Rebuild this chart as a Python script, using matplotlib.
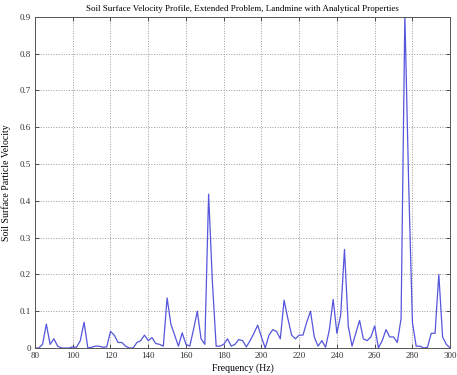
import matplotlib
matplotlib.use("Agg")
import matplotlib.pyplot as plt

freq = list(range(80, 302, 2))
velocity = [
    0.0, 0.0, 0.01, 0.065, 0.01, 0.025, 0.005, 0.0, 0.0, 0.0,          # 80-98
    0.003, 0.002, 0.02, 0.07, 0.0, 0.002, 0.005, 0.005, 0.002, 0.003,  # 100-118
    0.045, 0.035, 0.015, 0.015, 0.005, 0.0, 0.0, 0.015, 0.02, 0.035,   # 120-138
    0.02, 0.028, 0.012, 0.01, 0.005, 0.136, 0.065, 0.035, 0.005, 0.041, # 140-158
    0.01, 0.005, 0.05, 0.1, 0.025, 0.01, 0.418, 0.18, 0.005, 0.005,    # 160-178
    0.01, 0.025, 0.005, 0.01, 0.023, 0.02, 0.003, 0.02, 0.04, 0.062,   # 180-198
    0.03, 0.0, 0.035, 0.05, 0.045, 0.025, 0.13, 0.08, 0.035, 0.025,    # 200-218
    0.035, 0.035, 0.07, 0.1, 0.03, 0.005, 0.02, 0.002, 0.05, 0.132,    # 220-238
    0.04, 0.09, 0.268, 0.06, 0.005, 0.04, 0.075, 0.025, 0.02, 0.03,    # 240-258
    0.06, 0.0, 0.02, 0.05, 0.03, 0.03, 0.015, 0.08, 0.905, 0.45,       # 260-278
    0.07, 0.005, 0.005, 0.0, 0.002, 0.04, 0.04, 0.2, 0.03, 0.01, 0.0,  # 280-300
]

xticks = list(range(80, 320, 20))
yticks = [0, 0.1, 0.2, 0.3, 0.4, 0.5, 0.6, 0.7, 0.8, 0.9]
ytick_labels = ['0', '0.1', '0.2', '0.3', '0.4', '0.5', '0.6', '0.7', '0.8', '0.9']

plt.rcParams['font.family'] = ['Liberation Serif', 'DejaVu Serif']

fig = plt.figure(figsize=(4.57, 3.75), dpi=100)
ax = fig.add_axes([0.0766, 0.072, 0.9084, 0.883])
ax.plot(freq, velocity, color='#5555dd', linewidth=0.9)
ax.set_xlim(80, 300)
ax.set_ylim(0, 0.9)
ax.set_xticks(xticks)
ax.set_yticks(yticks)
ax.set_yticklabels(ytick_labels)
ax.grid(True, linestyle=':', color='#999999', linewidth=0.7)
ax.tick_params(direction='in', top=True, right=True, labelsize=6.5, length=3, width=0.6, pad=3, colors='#333333')
for s in ax.spines.values():
    s.set_linewidth(0.7)
    s.set_color('#555555')
ax.set_title('Soil Surface Velocity Profile, Extended Problem, Landmine with Analytical Properties',
             fontsize=6.5, pad=4)
ax.set_xlabel('Frequency (Hz)', fontsize=7, labelpad=2)
ax.set_ylabel('Soil Surface Particle Velocity', fontsize=7, labelpad=6)
fig.savefig('out.png', dpi=100)
